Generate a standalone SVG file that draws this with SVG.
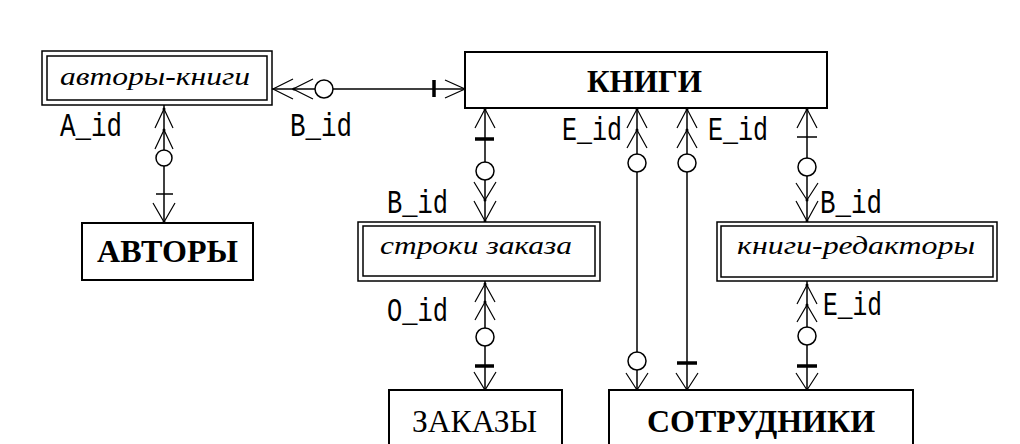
<svg xmlns="http://www.w3.org/2000/svg" width="1020" height="444" viewBox="0 0 1020 444">
<style>
.box{fill:#fff;stroke:#000;stroke-width:2}
.ibox{fill:none;stroke:#000;stroke-width:1.5}
.ln{fill:none;stroke:#000;stroke-width:1.5}
.cf{fill:none;stroke:#000;stroke-width:1.2}
.tk{stroke:#000;stroke-width:1.5}
.tkb{stroke:#000;stroke-width:3.5}
.oc{fill:#fff;stroke:#000;stroke-width:1.5}
.dot{fill:#000}
.t{font-family:"Liberation Serif","Times New Roman",serif;font-size:32px;fill:#000;text-anchor:start}
.b{font-weight:bold}
.i{font-style:italic;font-size:25px}
.lbl{font-family:"Courier New","Nimbus Mono PS","FreeMono","Liberation Mono",monospace;font-size:34px;fill:#000}
</style>
<rect width="1020" height="444" fill="#fff"/>

<g id="connectors">
  <!-- авторы-книги — КНИГИ -->
  <line class="ln" x1="272" y1="89" x2="465" y2="89"/>
  <path class="cf" d="M293,79 L273,89 L293,99 M313,79 L293,89 L313,99"/>
  <circle class="oc" cx="324" cy="89" r="9"/>
  <line class="tkb" x1="434" y1="80" x2="434" y2="97"/>
  <path class="cf" d="M445,80 L465,89 L445,98"/>
  <circle class="dot" cx="294" cy="89" r="1.5"/>

  <!-- авторы-книги — АВТОРЫ -->
  <line class="ln" x1="164" y1="105" x2="164" y2="223"/>
  <path class="cf" d="M155,128 L164,109 L173,128 M155,149 L164,130 L173,149"/>
  <circle class="dot" cx="164" cy="109" r="1.5"/><circle class="dot" cx="164" cy="130" r="1.5"/>
  <circle class="oc" cx="164" cy="158" r="8"/>
  <line class="tk" x1="156" y1="194" x2="173" y2="194"/>
  <path class="cf" d="M153,203 L164,222 L175,203"/>
  <circle class="dot" cx="164" cy="222" r="1.5"/>

  <!-- КНИГИ — строки заказа -->
  <line class="ln" x1="485" y1="108" x2="485" y2="222"/>
  <path class="cf" d="M475,128 L485,109 L495,128"/>
  <circle class="dot" cx="485" cy="109" r="1.5"/>
  <line class="tkb" x1="475" y1="139" x2="494" y2="139"/>
  <circle class="oc" cx="485" cy="171" r="9"/>
  <path class="cf" d="M474,182 L485,200 L496,182 M474,201 L485,221 L496,201"/>
  <circle class="dot" cx="485" cy="200" r="1.5"/><circle class="dot" cx="485" cy="221" r="1.5"/>

  <!-- строки заказа — ЗАКАЗЫ -->
  <line class="ln" x1="485" y1="281" x2="485" y2="390"/>
  <path class="cf" d="M475,302 L485,284 L495,302 M475,320 L485,302 L495,320"/>
  <circle class="dot" cx="485" cy="284" r="1.5"/><circle class="dot" cx="485" cy="302" r="1.5"/>
  <circle class="oc" cx="485" cy="337" r="9"/>
  <line class="tkb" x1="475" y1="366" x2="494" y2="366"/>
  <path class="cf" d="M474,372 L485,390 L496,372"/>
  <circle class="dot" cx="485" cy="390" r="1.5"/>

  <!-- КНИГИ — СОТРУДНИКИ (1) -->
  <line class="ln" x1="637" y1="108" x2="637" y2="390"/>
  <path class="cf" d="M627,128 L637,109 L647,128 M627,148 L637,130 L647,148"/>
  <circle class="dot" cx="637" cy="109" r="1.5"/><circle class="dot" cx="637" cy="130" r="1.5"/>
  <circle class="oc" cx="637" cy="163" r="9"/>
  <circle class="oc" cx="637" cy="361" r="9"/>
  <path class="cf" d="M626,373 L637,390 L648,373"/>
  <circle class="dot" cx="637" cy="390" r="1.5"/>

  <!-- КНИГИ — СОТРУДНИКИ (2) -->
  <line class="ln" x1="687" y1="108" x2="687" y2="390"/>
  <path class="cf" d="M677,128 L687,109 L697,128 M677,148 L687,130 L697,148"/>
  <circle class="dot" cx="687" cy="109" r="1.5"/><circle class="dot" cx="687" cy="130" r="1.5"/>
  <circle class="oc" cx="687" cy="163" r="9"/>
  <line class="tkb" x1="677" y1="363" x2="697" y2="363"/>
  <path class="cf" d="M676,373 L687,390 L698,373"/>
  <circle class="dot" cx="687" cy="390" r="1.5"/>

  <!-- КНИГИ — книги-редакторы -->
  <line class="ln" x1="807" y1="108" x2="807" y2="222"/>
  <path class="cf" d="M797,128 L807,109 L817,128"/>
  <circle class="dot" cx="807" cy="109" r="1.5"/>
  <line class="tk" x1="797" y1="137" x2="817" y2="137"/>
  <circle class="oc" cx="807" cy="167" r="9"/>
  <path class="cf" d="M796,183 L807,200 L818,183 M796,201 L807,221 L818,201"/>
  <circle class="dot" cx="807" cy="200" r="1.5"/><circle class="dot" cx="807" cy="221" r="1.5"/>

  <!-- книги-редакторы — СОТРУДНИКИ -->
  <line class="ln" x1="807" y1="281" x2="807" y2="390"/>
  <path class="cf" d="M797,304 L807,285 L817,304 M797,322 L807,305 L817,322"/>
  <circle class="dot" cx="807" cy="285" r="1.5"/><circle class="dot" cx="807" cy="305" r="1.5"/>
  <circle class="oc" cx="807" cy="336" r="9"/>
  <line class="tkb" x1="797" y1="366" x2="817" y2="366"/>
  <path class="cf" d="M796,373 L807,390 L818,373"/>
  <circle class="dot" cx="807" cy="390" r="1.5"/>

  <!-- labels -->
  <text class="lbl" x="60" y="136" textLength="62" lengthAdjust="spacingAndGlyphs">A_id</text>
  <text class="lbl" x="290" y="136" textLength="62" lengthAdjust="spacingAndGlyphs">B_id</text>
  <text class="lbl" x="562" y="140" textLength="60" lengthAdjust="spacingAndGlyphs">E_id</text>
  <text class="lbl" x="708" y="140" textLength="60" lengthAdjust="spacingAndGlyphs">E_id</text>
  <text class="lbl" x="387" y="213" textLength="61" lengthAdjust="spacingAndGlyphs">B_id</text>
  <text class="lbl" x="820" y="213" textLength="62" lengthAdjust="spacingAndGlyphs">B_id</text>
  <text class="lbl" x="387" y="321" textLength="61" lengthAdjust="spacingAndGlyphs">O_id</text>
  <text class="lbl" x="823" y="315" textLength="59" lengthAdjust="spacingAndGlyphs">E_id</text>
</g>

<g id="avtory-knigi">
  <rect class="box" x="42" y="51" width="230" height="54" style="stroke-width:1.5"/>
  <rect class="ibox" x="47" y="56" width="220" height="44"/>
  <text class="t i" x="60" y="85" textLength="190" lengthAdjust="spacingAndGlyphs">авторы-книги</text>
</g>

<g id="knigi">
  <rect class="box" x="465" y="52" width="362" height="56"/>
  <text class="t b" x="587" y="92" textLength="115" lengthAdjust="spacingAndGlyphs">КНИГИ</text>
</g>

<g id="avtory">
  <rect class="box" x="82" y="223" width="171" height="57"/>
  <text class="t b" x="97" y="262" textLength="141" lengthAdjust="spacingAndGlyphs">АВТОРЫ</text>
</g>

<g id="stroki-zakaza">
  <rect class="box" x="358" y="222" width="242" height="59" style="stroke-width:1.5"/>
  <rect class="ibox" x="363" y="226" width="232" height="50"/>
  <text class="t i" x="380" y="254" textLength="192" lengthAdjust="spacingAndGlyphs">строки заказа</text>
</g>

<g id="knigi-redaktory">
  <rect class="box" x="717" y="222" width="280" height="59" style="stroke-width:1.5"/>
  <rect class="ibox" x="721" y="226" width="272" height="51"/>
  <text class="t i" x="737" y="254" textLength="238" lengthAdjust="spacingAndGlyphs">книги-редакторы</text>
</g>

<g id="zakazy">
  <rect class="box" x="389" y="390" width="173" height="70"/>
  <text class="t" x="412" y="432" textLength="125" lengthAdjust="spacingAndGlyphs">ЗАКАЗЫ</text>
</g>

<g id="sotrudniki">
  <rect class="box" x="609" y="390" width="304" height="70"/>
  <text class="t b" x="647" y="432" textLength="228" lengthAdjust="spacingAndGlyphs">СОТРУДНИКИ</text>
</g>
</svg>
